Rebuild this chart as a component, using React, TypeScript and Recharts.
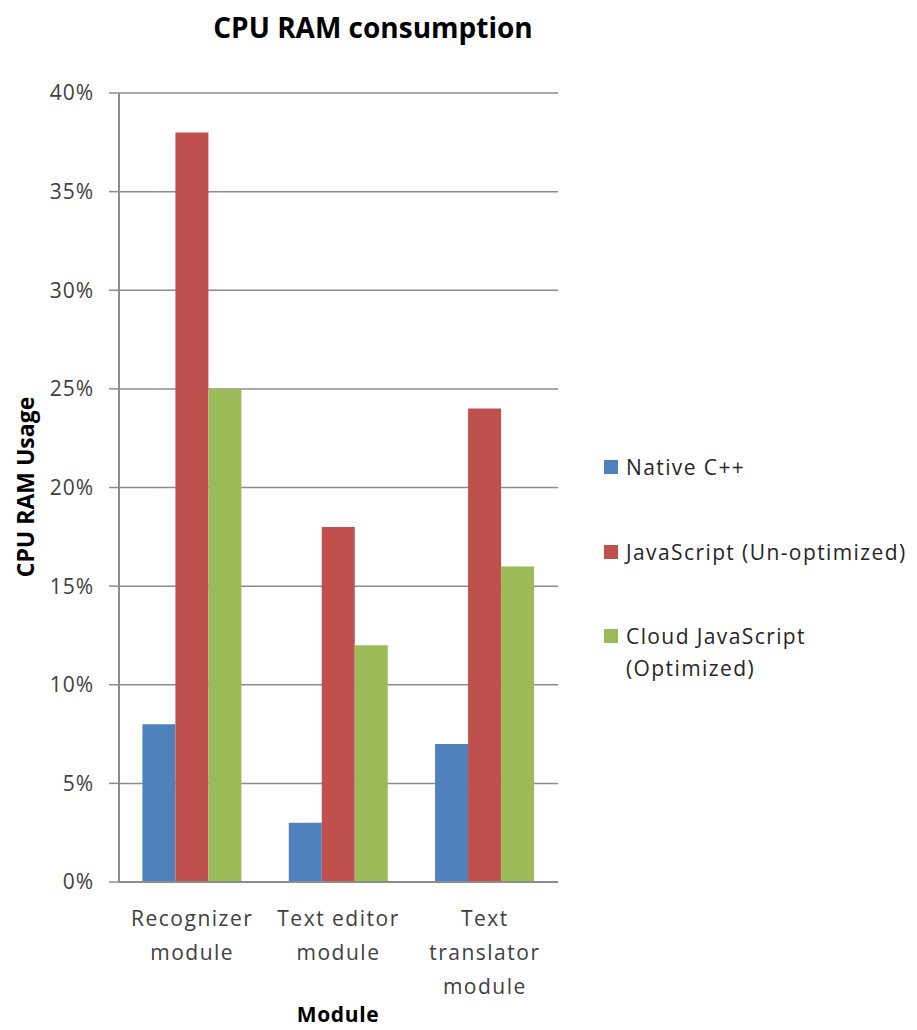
import React from 'react'
import { BarChart, Bar, XAxis, YAxis, CartesianGrid } from 'recharts';

const modules = ['Recognizer module', 'Text editor module', 'Text translator module'];
const moduleLines = [['Recognizer', 'module'], ['Text editor', 'module'], ['Text', 'translator', 'module']];
const nativeCpp = [8, 3, 7];
const jsUnoptimized = [38, 18, 24];
const cloudJs = [25, 12, 16];
const yTicks = [0, 5, 10, 15, 20, 25, 30, 35, 40];

const series = [
  { key: 'native', name: 'Native C++', color: '#4F81BD', lines: ['Native C++'] },
  { key: 'js', name: 'JavaScript (Un-optimized)', color: '#C0504D', lines: ['JavaScript (Un-optimized)'] },
  { key: 'cloud', name: 'Cloud JavaScript (Optimized)', color: '#9BBB59', lines: ['Cloud JavaScript', '(Optimized)'] },
];

const data = modules.map((m, i) => ({
  module: m,
  native: nativeCpp[i],
  js: jsUnoptimized[i],
  cloud: cloudJs[i],
}));

const FONT = '"Open Sans", sans-serif';

const XTick = ({ x, y, payload, index }: any) => {
  const lines = moduleLines[index] || [payload.value];
  return (
    <g>
      {lines.map((l, i) => (
        <text key={i} x={x} y={y + 28 + i * 34} textAnchor="middle" dominantBaseline="central"
          fontSize={21} fill="#404040" fontFamily={FONT} letterSpacing={1.5}>{l}</text>
      ))}
    </g>
  );
};

// legend drawn next to the plot, outside the svg so it doesn't eat plot space
const LegendBox = () => {
  const centers = [467, 552, 636];
  return (
    <div style={{ position: 'absolute', left: 604, top: 0, fontFamily: FONT }}>
      {series.map((s, i) => (
        <div key={s.key}>
          <div style={{ position: 'absolute', left: 0, top: centers[i] - 7, width: 14, height: 14, background: s.color }} />
          {s.lines.map((l, j) => (
            <div key={j} style={{ position: 'absolute', left: 22, top: centers[i] + j * 32 - 15, whiteSpace: 'nowrap',
              fontSize: 21, lineHeight: '30px', color: '#262626', letterSpacing: 1.4 }}>{l}</div>
          ))}
        </div>
      ))}
    </div>
  );
};

export default function App() {
  return (
    <div style={{ position: 'absolute', left: 0, top: 0, width: 917, height: 1030, background: '#fff' }}>
      <BarChart width={917} height={1030} data={data}
        margin={{ top: 93, right: 359, bottom: 0, left: 0 }}
        barCategoryGap="16%" barGap={0}>
        <text x={373} y={27} textAnchor="middle" dominantBaseline="central" fontSize={28}
          fontWeight="bold" fontFamily={FONT} fill="#000">CPU RAM consumption</text>
        <CartesianGrid vertical={false} stroke="#8c8c8c" strokeWidth={1.5} />
        <XAxis dataKey="module" height={148} tickLine={false} interval={0}
          axisLine={{ stroke: '#8c8c8c', strokeWidth: 2 }} tick={<XTick />} />
        <YAxis width={119} domain={[0, 40]} ticks={yTicks} interval={0}
          tickFormatter={(v: number) => `${v}%`} tickSize={10} tickMargin={15}
          axisLine={{ stroke: '#8c8c8c', strokeWidth: 2 }} tickLine={{ stroke: '#8c8c8c', strokeWidth: 1.5 }}
          tick={{ fontSize: 21, fill: '#404040', fontFamily: FONT, letterSpacing: 1 }} />
        {series.map(s => (
          <Bar key={s.key} dataKey={s.key} name={s.name} fill={s.color} isAnimationActive={false} />
        ))}
        <text x={338} y={1014} textAnchor="middle" dominantBaseline="central" fontSize={21}
          fontWeight="bold" fontFamily={FONT} fill="#000" letterSpacing={0.6}>Module</text>
        <text x={25} y={487} textAnchor="middle" dominantBaseline="central" fontSize={23}
          fontWeight="bold" fontFamily={FONT} fill="#000" transform="rotate(-90 25 487)">CPU RAM Usage</text>
      </BarChart>
      <LegendBox />
    </div>
  );
}
